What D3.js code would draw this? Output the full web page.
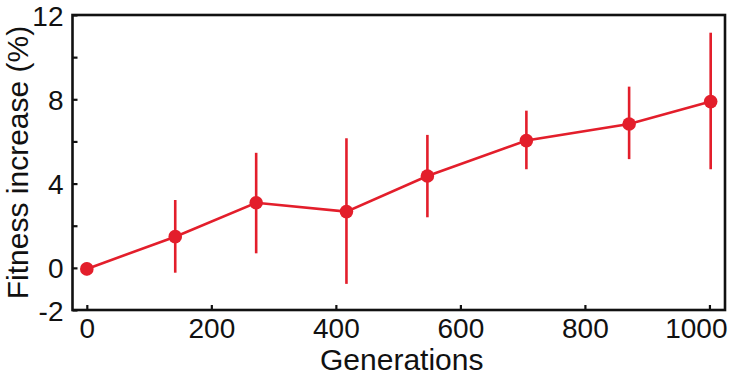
<!DOCTYPE html>
<html>
<head>
<meta charset="utf-8">
<script src="https://cdn.jsdelivr.net/npm/d3@7"></script>
<style>
  html, body { margin: 0; padding: 0; background: #fff; }
  svg { display: block; }
  text { font-family: "Liberation Sans", Arial, Helvetica, sans-serif; fill: #111; }
</style>
</head>
<body>
<svg id="chart" width="735" height="377"></svg>
<script>
// ---- data ----
const generations = [0, 142, 272, 417, 547, 706, 871, 1002];
const fitness     = [-0.05, 1.48, 3.09, 2.67, 4.36, 6.04, 6.83, 7.89];
const errLower    = [-0.35, -0.23, 0.69, -0.76, 2.40, 4.68, 5.16, 4.68];
const errUpper    = [0.25, 3.22, 5.46, 6.15, 6.31, 7.46, 8.60, 11.16];
const xTicks = [0, 200, 400, 600, 800, 1000];
const yTicks = [-2, 0, 2, 4, 6, 8, 10, 12];
const yLabeled = [-2, 0, 4, 8, 12];
const xTitle = "Generations";
const yTitle = "Fitness increase (%)";

const svg = d3.select("#chart");
const mLeft = 72.5, mRight = 725, mTop = 15, mBottom = 310;
const red = "#e31e2b";

const x = d3.scaleLinear().domain([-23, 1025]).range([mLeft, mRight]);
const y = d3.scaleLinear().domain([-2, 12]).range([mBottom, mTop]);

// frame
svg.append("rect")
  .attr("x", mLeft).attr("y", mTop)
  .attr("width", mRight - mLeft).attr("height", mBottom - mTop)
  .attr("fill", "none").attr("stroke", "#111").attr("stroke-width", 2.6);

// axes
const xAxis = d3.axisBottom(x).tickValues(xTicks).tickSize(-5).tickPadding(8)
  .tickFormat(d => String(d));
const gx = svg.append("g").attr("transform", `translate(0,${mBottom})`).call(xAxis);
gx.select(".domain").remove();
gx.selectAll(".tick line").attr("stroke", "#111").attr("stroke-width", 2.2);
gx.selectAll(".tick text").attr("font-size", 28).attr("dy", "0.72em");
// the last label is pulled left so it stays inside the picture, as in the reference
gx.selectAll(".tick text").filter(d => d === xTicks[xTicks.length - 1])
  .attr("text-anchor", "end").attr("x", mRight + 2 - x(xTicks[xTicks.length - 1]));

const yAxis = d3.axisLeft(y).tickValues(yTicks).tickSize(-5).tickPadding(9)
  .tickFormat(d => yLabeled.includes(d) ? String(d) : "");
const gy = svg.append("g").attr("transform", `translate(${mLeft},0)`).call(yAxis);
gy.select(".domain").remove();
gy.selectAll(".tick line").attr("stroke", "#111").attr("stroke-width", 2.2);
gy.selectAll(".tick text").attr("font-size", 28).attr("dy", "0.36em");
svg.selectAll("g").attr("font-family", null).attr("font-size", null);

// axis titles
svg.append("text")
  .attr("x", (mLeft + mRight) / 2 + 3).attr("y", 370)
  .attr("text-anchor", "middle").attr("font-size", 30)
  .text(xTitle);

svg.append("text")
  .attr("transform", `translate(28,${(mTop + mBottom) / 2}) rotate(-90)`)
  .attr("text-anchor", "middle").attr("font-size", 30)
  .text(yTitle);

// data
const data = generations.map((g, i) => ({ g, v: fitness[i], lo: errLower[i], hi: errUpper[i] }));

svg.append("g").selectAll("line").data(data).join("line")
  .attr("x1", d => x(d.g)).attr("x2", d => x(d.g))
  .attr("y1", d => y(d.lo)).attr("y2", d => y(d.hi))
  .attr("stroke", red).attr("stroke-width", 2.6);

svg.append("path").datum(data)
  .attr("fill", "none").attr("stroke", red).attr("stroke-width", 2.6)
  .attr("d", d3.line().x(d => x(d.g)).y(d => y(d.v)));

svg.append("g").selectAll("circle").data(data).join("circle")
  .attr("cx", d => x(d.g)).attr("cy", d => y(d.v)).attr("r", 6.8)
  .attr("fill", red);
</script>
</body>
</html>
